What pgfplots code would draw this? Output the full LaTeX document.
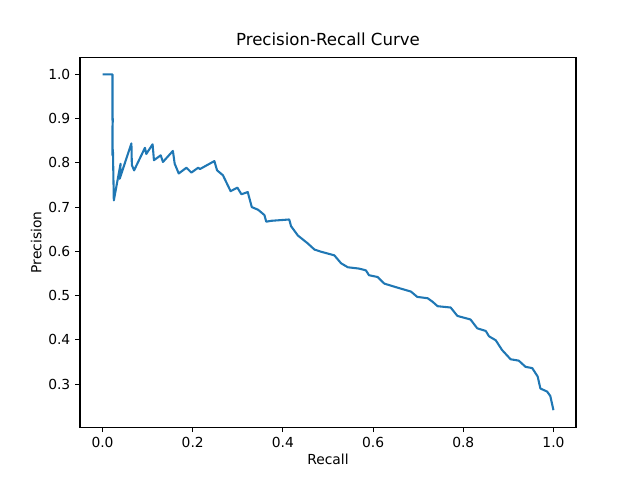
\documentclass[border=0pt]{standalone}
\usepackage{fontspec}
\setmainfont{DejaVu Sans}
\usepackage{pgfplots}
\pgfplotsset{compat=1.18}
\definecolor{mplblue}{HTML}{1F77B4}
\begin{document}
\begin{tikzpicture}
\useasboundingbox (0,0) rectangle (6.4in,4.8in);
\begin{axis}[
  at={(0.8in,0.528in)}, anchor=south west,
  scale only axis, width=4.96in, height=3.696in,
  xmin=-0.05, xmax=1.05, ymin=0.2025, ymax=1.0379,
  xtick={0,0.2,0.4,0.6,0.8,1.0},
  ytick={0.3,0.4,0.5,0.6,0.7,0.8,0.9,1.0},
  tick align=outside, major tick length=3.5pt,
  xtick pos=bottom, ytick pos=left,
  tick style={black, line width=0.8pt},
  axis line style={line width=0.8pt},
  /pgf/number format/assume math mode=true,
  /pgf/number format/.cd, fixed, fixed zerofill, precision=1, /pgfplots/.cd,
  ticklabel style={font=\fontsize{10}{12}\selectfont},
  label style={font=\fontsize{10}{12}\selectfont},
  title style={font=\fontsize{12}{14}\selectfont, yshift=-1pt},
  title={Precision-Recall Curve},
  xlabel={Recall}, ylabel={Precision},
  xlabel style={yshift=2pt},
  ylabel style={yshift=-2pt},
]
\addplot[mplblue, line width=1.5pt, line join=round] table {
0.000 1.000
0.022 1.000
0.022 0.896
0.023 0.900
0.022 0.881
0.022 0.817
0.023 0.830
0.025 0.715
0.040 0.798
0.038 0.764
0.064 0.844
0.065 0.795
0.070 0.783
0.094 0.834
0.097 0.820
0.111 0.842
0.114 0.806
0.129 0.817
0.134 0.802
0.156 0.827
0.160 0.798
0.169 0.776
0.186 0.789
0.197 0.778
0.212 0.789
0.216 0.786
0.248 0.804
0.254 0.783
0.267 0.772
0.284 0.736
0.299 0.744
0.308 0.729
0.322 0.734
0.331 0.700
0.345 0.694
0.359 0.682
0.363 0.667
0.374 0.669
0.414 0.672
0.418 0.657
0.433 0.636
0.455 0.618
0.470 0.604
0.485 0.599
0.514 0.591
0.529 0.573
0.544 0.564
0.569 0.561
0.584 0.557
0.591 0.546
0.610 0.542
0.625 0.527
0.654 0.518
0.684 0.509
0.698 0.497
0.721 0.494
0.732 0.486
0.743 0.476
0.772 0.473
0.787 0.454
0.816 0.446
0.831 0.426
0.850 0.420
0.857 0.408
0.872 0.399
0.886 0.377
0.905 0.356
0.923 0.353
0.938 0.339
0.953 0.336
0.965 0.317
0.971 0.290
0.986 0.283
0.993 0.273
1.000 0.241
};
\end{axis}
\end{tikzpicture}
\end{document}
